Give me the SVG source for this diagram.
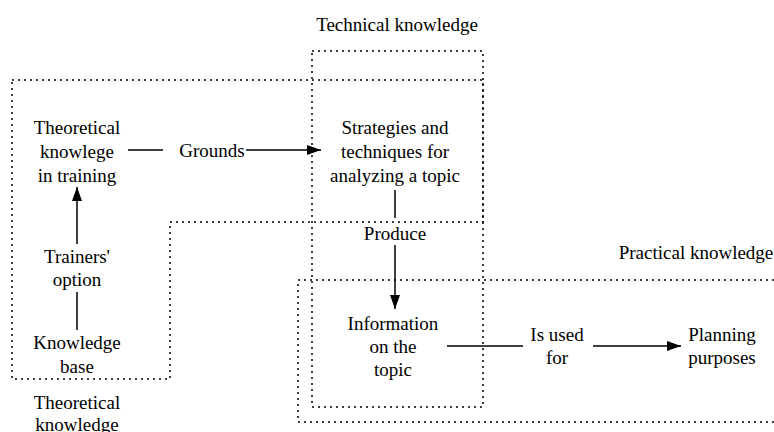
<svg xmlns="http://www.w3.org/2000/svg" width="774" height="432" viewBox="0 0 774 432">
<defs>
<marker id="ah" markerWidth="14" markerHeight="10" refX="14" refY="5" orient="auto" markerUnits="userSpaceOnUse">
<path d="M0,0 L14,5 L0,10 Z" fill="#000"/>
</marker>
</defs>
<g id="regions" fill="none" stroke="#000" stroke-width="1.5" stroke-dasharray="2 4">
<path id="theoretical-region" d="M12,80 L483,80 L483,222 L170,222 L170,379 L12,379 Z"/>
<rect id="technical-region" x="312" y="51" width="171" height="356"/>
<path id="practical-region" d="M774,280 L298,280 L298,422 L774,422"/>
</g>
<g id="region-labels">
<text font-family="Liberation Serif" font-size="19" text-anchor="middle" x="397" y="31">Technical knowledge</text>
<text font-family="Liberation Serif" font-size="19" text-anchor="middle" x="696" y="259">Practical knowledge</text>
<text font-family="Liberation Serif" font-size="19" text-anchor="middle" x="77" y="409">Theoretical</text>
<text font-family="Liberation Serif" font-size="19" text-anchor="middle" x="77" y="431">knowledge</text>
</g>
<g id="node-theory">
<text font-family="Liberation Serif" font-size="19" text-anchor="middle" x="77" y="134">Theoretical</text>
<text font-family="Liberation Serif" font-size="19" text-anchor="middle" x="77" y="158">knowlege</text>
<text font-family="Liberation Serif" font-size="19" text-anchor="middle" x="77" y="182">in training</text>
</g>
<g id="node-strategies">
<text font-family="Liberation Serif" font-size="19" text-anchor="middle" x="395" y="134">Strategies and</text>
<text font-family="Liberation Serif" font-size="19" text-anchor="middle" x="395" y="158">techniques for</text>
<text font-family="Liberation Serif" font-size="19" text-anchor="middle" x="395" y="182">analyzing a topic</text>
</g>
<g id="node-information">
<text font-family="Liberation Serif" font-size="19" text-anchor="middle" x="393" y="330">Information</text>
<text font-family="Liberation Serif" font-size="19" text-anchor="middle" x="393" y="353">on the</text>
<text font-family="Liberation Serif" font-size="19" text-anchor="middle" x="393" y="376">topic</text>
</g>
<g id="node-planning">
<text font-family="Liberation Serif" font-size="19" text-anchor="middle" x="722" y="341">Planning</text>
<text font-family="Liberation Serif" font-size="19" text-anchor="middle" x="722" y="364">purposes</text>
</g>
<g id="node-knowledge-base">
<text font-family="Liberation Serif" font-size="19" text-anchor="middle" x="77" y="349">Knowledge</text>
<text font-family="Liberation Serif" font-size="19" text-anchor="middle" x="77" y="373">base</text>
</g>
<g id="connector-labels">
<text font-family="Liberation Serif" font-size="19" text-anchor="middle" x="212" y="157">Grounds</text>
<text font-family="Liberation Serif" font-size="19" text-anchor="middle" x="395" y="240">Produce</text>
<text font-family="Liberation Serif" font-size="19" text-anchor="middle" x="557" y="341">Is used</text>
<text font-family="Liberation Serif" font-size="19" text-anchor="middle" x="557" y="364">for</text>
<text font-family="Liberation Serif" font-size="19" text-anchor="middle" x="77" y="263">Trainers'</text>
<text font-family="Liberation Serif" font-size="19" text-anchor="middle" x="77" y="286">option</text>
</g>
<g id="connectors" fill="none" stroke="#000" stroke-width="1.5">
<line x1="128" y1="150" x2="163" y2="150"/>
<line x1="246" y1="150" x2="321" y2="150" marker-end="url(#ah)"/>
<line x1="395" y1="190" x2="395" y2="218"/>
<line x1="395" y1="245" x2="395" y2="309" marker-end="url(#ah)"/>
<line x1="447" y1="346" x2="523" y2="346"/>
<line x1="593" y1="346" x2="681" y2="346" marker-end="url(#ah)"/>
<line x1="77" y1="330" x2="77" y2="292"/>
<line x1="77" y1="244" x2="77" y2="187" marker-end="url(#ah)"/>
</g>
</svg>
